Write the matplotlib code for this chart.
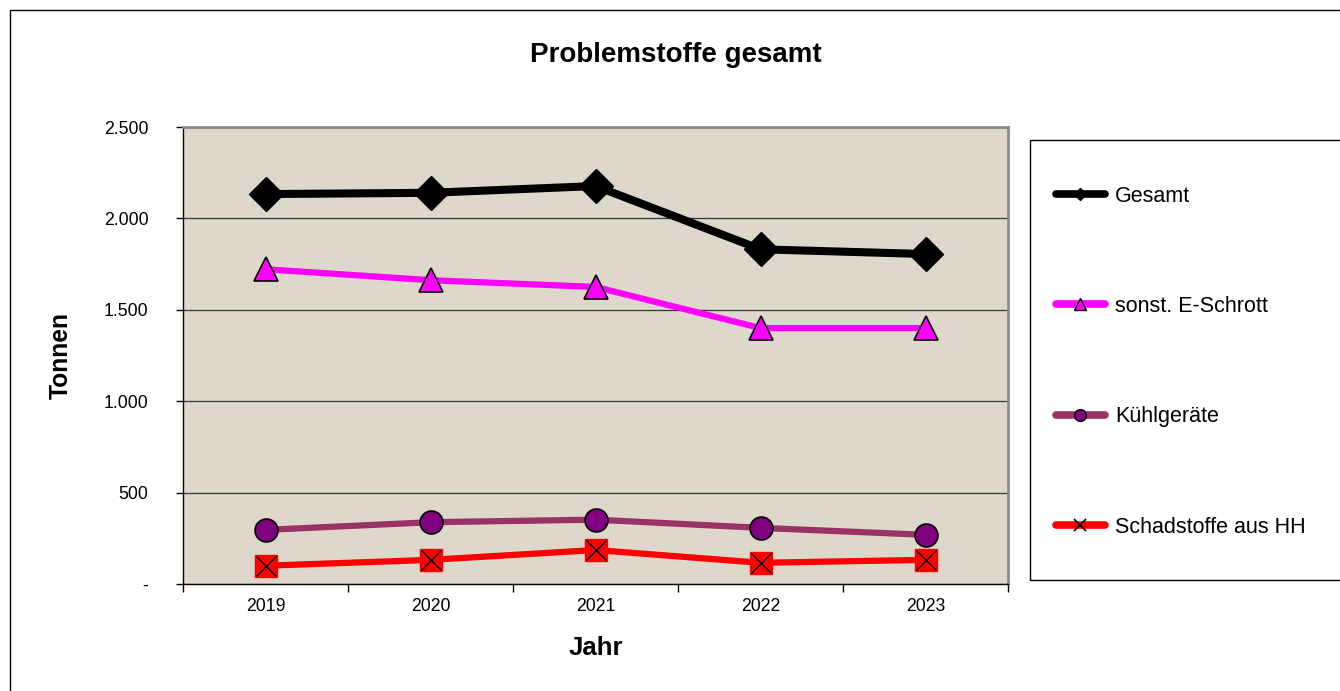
"""Problemstoffe gesamt - line chart of hazardous waste amounts per year."""

import matplotlib.pyplot as plt
from matplotlib.lines import Line2D
from matplotlib.patches import Rectangle
from matplotlib.ticker import FuncFormatter

years = ["2019", "2020", "2021", "2022", "2023"]
gesamt = [2133, 2140, 2177, 1831, 1805]
sonst_e_schrott = [1722, 1662, 1625, 1400, 1400]
kuehlgeraete = [296, 338, 352, 307, 269]
schadstoffe_hh = [100, 132, 186, 116, 132]

series_names = ["Gesamt", "sonst. E-Schrott", "Kühlgeräte", "Schadstoffe aus HH"]


def fmt_tonnen(v, pos):
    if v == 0:
        return "-"
    return f"{int(v):,}".replace(",", ".")


def main() -> None:
    plt.rcParams["font.family"] = ["Liberation Sans", "DejaVu Sans"]

    fig = plt.figure(figsize=(13.4, 6.91), dpi=100)
    W, H = 1340, 691

    # outer chart border
    fig.patches.append(Rectangle((10 / W, -0.05), 1.2, 1 - 10 / H + 0.05,
                                 transform=fig.transFigure, fill=False,
                                 edgecolor="black", linewidth=1.0))

    left, right, top, bottom = 183, 1008, 127, 584
    ax = fig.add_axes([left / W, 1 - bottom / H, (right - left) / W, (bottom - top) / H])
    ax.set_facecolor("#DED8CB")

    x = list(range(len(years)))

    ax.plot(x, gesamt, color="black", linewidth=5.8, marker="D", markersize=17,
            markerfacecolor="black", markeredgecolor="black", zorder=4)
    ax.plot(x, sonst_e_schrott, color="#FF00FF", linewidth=4.5, marker="^", markersize=17,
            markerfacecolor="#FF00FF", markeredgecolor="black", markeredgewidth=1.2, zorder=4)
    ax.plot(x, kuehlgeraete, color="#993366", linewidth=4.5, marker="o", markersize=16.5,
            markerfacecolor="#800080", markeredgecolor="black", markeredgewidth=1.2, zorder=4)
    ax.plot(x, schadstoffe_hh, color="#FF0000", linewidth=4.5, marker="s", markersize=16,
            markerfacecolor="#FF0000", markeredgecolor="#FF0000", zorder=4)
    ax.plot(x, schadstoffe_hh, linestyle="none", marker="x", markersize=15,
            markeredgecolor="black", markeredgewidth=1.0, zorder=5)

    ax.set_xlim(-0.5, len(years) - 0.5)
    ax.set_ylim(0, 2500)
    ax.set_yticks([0, 500, 1000, 1500, 2000, 2500])
    ax.yaxis.set_major_formatter(FuncFormatter(fmt_tonnen))
    ax.yaxis.grid(True, color="#333333", linewidth=0.9)
    ax.set_axisbelow(True)

    ax.set_xticks(x)
    ax.set_xticklabels(years)
    ax.set_xticks([i - 0.5 for i in range(len(years) + 1)], minor=True)
    ax.tick_params(axis="x", which="major", length=0, pad=10, labelsize=12.7)
    ax.tick_params(axis="x", which="minor", length=6, width=1, direction="out")
    ax.tick_params(axis="y", length=5, width=1, direction="out", pad=20, labelsize=12.7)

    for side in ["top", "right"]:
        ax.spines[side].set_color("#8C8C8C")
        ax.spines[side].set_linewidth(2)
    for side in ["left", "bottom"]:
        ax.spines[side].set_color("black")
        ax.spines[side].set_linewidth(1)

    ax.set_ylabel("Tonnen", fontsize=17.7, fontweight="bold", labelpad=22)
    ax.set_xlabel("Jahr", fontsize=18.5, fontweight="bold", labelpad=15)
    fig.text(676 / W, 1 - 55 / H, "Problemstoffe gesamt", ha="center", va="center",
             fontsize=20, fontweight="bold")

    # legend box
    fig.patches.append(Rectangle((1030 / W, 1 - 580 / H), 0.3, (580 - 140) / H,
                                 transform=fig.transFigure, fill=False,
                                 edgecolor="black", linewidth=1.0))
    handles = [
        Line2D([], [], color="black", linewidth=5.5, solid_capstyle="round",
               marker="D", markersize=6, markerfacecolor="black", markeredgecolor="black"),
        Line2D([], [], color="#FF00FF", linewidth=5.5, solid_capstyle="round",
               marker="^", markersize=8.5, markerfacecolor="#FF00FF", markeredgecolor="black"),
        Line2D([], [], color="#993366", linewidth=5.5, solid_capstyle="round",
               marker="o", markersize=8.5, markerfacecolor="#800080", markeredgecolor="black"),
        Line2D([], [], color="#FF0000", linewidth=5.5, solid_capstyle="round",
               marker="x", markersize=8.5, markeredgecolor="black", markeredgewidth=1.2),
    ]
    fig.legend(handles, series_names, loc="upper left",
               bbox_to_anchor=(1047 / W, 1 - 177 / H), frameon=False,
               fontsize=15.5, handlelength=2.3, handletextpad=0.45,
               labelspacing=4.15, borderaxespad=0)

    fig.savefig("out.png", dpi=100)


if __name__ == "__main__":
    main()
